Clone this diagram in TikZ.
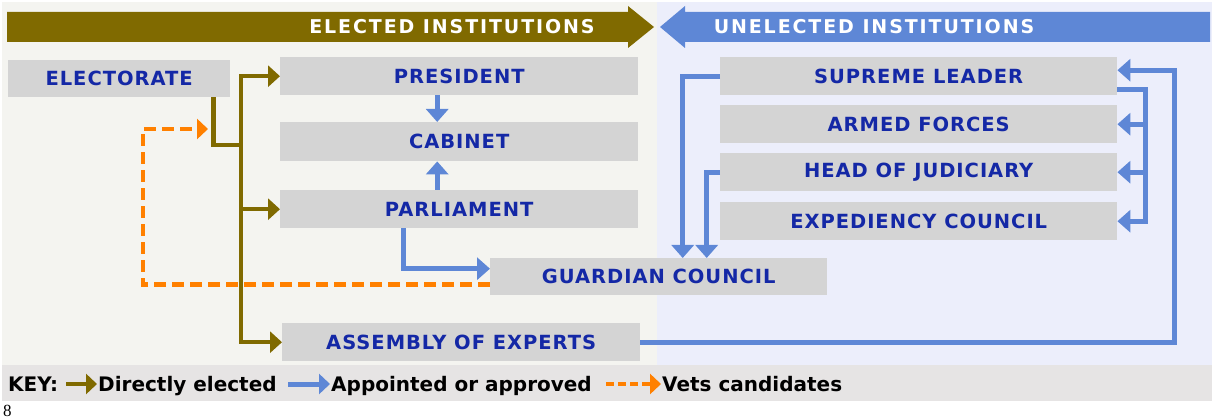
\documentclass[tikz,border=0pt]{standalone}
\usepackage{fontspec}
\setmainfont{DejaVu Sans}
\newfontfamily\boxfont[LetterSpace=5]{DejaVu Sans Bold}
\newfontfamily\banfont[LetterSpace=10]{DejaVu Sans Bold}
\newfontfamily\keyfont{DejaVu Sans Bold}
\newfontfamily\pnfont{Liberation Serif}
\usetikzlibrary{arrows.meta}
\definecolor{olv}{HTML}{806A00}
\definecolor{blu}{HTML}{5E87D6}
\definecolor{org}{HTML}{FF8000}
\definecolor{boxgrey}{HTML}{D4D4D4}
\definecolor{txtblue}{HTML}{1428A6}
\definecolor{leftbg}{HTML}{F4F4F0}
\definecolor{rightbg}{HTML}{ECEEFB}
\definecolor{keybg}{HTML}{E6E4E4}
\tikzset{
  inst/.style={fill=boxgrey, draw=none, inner sep=0pt, anchor=north west,
    font=\boxfont\fontsize{19.5}{21}\selectfont, text=txtblue},
  banner/.style={inner sep=0pt, font=\banfont\fontsize{19}{21}\selectfont, text=white},
  keytext/.style={inner sep=0pt, anchor=base west, font=\keyfont\fontsize{20}{22}\selectfont, text=black},
  olvline/.style={draw=olv, line width=4.5pt},
  olvarrow/.style={olvline, -{Triangle[length=12pt,width=21pt]}},
  olvboth/.style={olvline, {Triangle[length=12pt,width=21pt]}-{Triangle[length=12pt,width=21pt]}},
  bluline/.style={draw=blu, line width=5pt},
  bluarrow/.style={bluline, -{Triangle[length=13pt,width=22pt]}},
  orgarrow/.style={draw=org, line width=4.5pt, dash pattern=on 12pt off 6pt, -{Triangle[length=11pt,width=20pt]}},
  olvkey/.style={olvline, -{Triangle[length=11pt,width=20pt]}},
  blukey/.style={bluline, -{Triangle[length=11pt,width=20pt]}},
  orgkey/.style={draw=org, line width=4.5pt, dash pattern=on 8pt off 4pt, -{Triangle[length=11pt,width=20pt]}}
}
\begin{document}
\begin{tikzpicture}[x=1pt,y=-1pt]
\useasboundingbox (0,0) rectangle (1214,419);
% backgrounds
\fill[white] (0,0) rectangle (1214,419);
\fill[leftbg] (2,2) rectangle (657,365);
\fill[rightbg] (657,2) rectangle (1212,365);
\fill[keybg] (2,365) rectangle (1212,401);
% banners
\fill[olv] (7,12) -- (628,12) -- (628,6) -- (654,27) -- (628,48) -- (628,42) -- (7,42) -- cycle;
\fill[blu] (1210,12) -- (685,12) -- (685,6) -- (660,27) -- (685,48) -- (685,42) -- (1210,42) -- cycle;
\node[banner] (electedban) at (452,27) {ELECTED INSTITUTIONS};
\node[banner] (unelectedban) at (874,27) {UNELECTED INSTITUTIONS};
% boxes
\node[inst, minimum width=222pt, minimum height=37pt] (elect) at (8,60) {ELECTORATE};
\node[inst, minimum width=358pt, minimum height=38pt] (pres) at (280,57) {PRESIDENT};
\node[inst, minimum width=358pt, minimum height=39pt] (cab) at (280,122) {CABINET};
\node[inst, minimum width=358pt, minimum height=38pt] (parl) at (280,190) {PARLIAMENT};
\node[inst, minimum width=337pt, minimum height=37pt] (guard) at (490,258) {GUARDIAN COUNCIL};
\node[inst, minimum width=358pt, minimum height=38pt] (assem) at (282,323) {ASSEMBLY OF EXPERTS};
\node[inst, minimum width=397pt, minimum height=38pt] (sup) at (720,57) {SUPREME LEADER};
\node[inst, minimum width=397pt, minimum height=38pt] (armed) at (720,105) {ARMED FORCES};
\node[inst, minimum width=397pt, minimum height=38pt] (judic) at (720,153) {HEAD OF JUDICIARY};
\node[inst, minimum width=397pt, minimum height=38pt] (exped) at (720,202) {EXPEDIENCY COUNCIL};
% helper coordinates
\coordinate (trunk) at (241,145);
\coordinate (vet) at (208,129);
\coordinate (orgcorner) at (143,129);
\coordinate (rb) at (1145,0);
\coordinate (ro) at (1174,0);
\coordinate (supin) at ([yshift=6pt]sup.east);
\coordinate (supout) at ([yshift=-13pt]sup.east);
% orange (vets)
\draw[orgarrow] ([yshift=-8pt]guard.west) -| (orgcorner) -- (vet);
% olive (directly elected)
\draw[olvline] ([xshift=-17pt]elect.south east) |- (trunk);
\draw[olvboth] (pres.west) -| (trunk |- assem.west) -- (assem.west);
\draw[olvarrow] (trunk |- parl.west) -- (parl.west);
% blue (appointed)
\draw[bluarrow] ([xshift=-22pt]pres.south) -- ([xshift=-22pt]cab.north);
\draw[bluarrow] ([xshift=-22pt]parl.north) -- ([xshift=-22pt]cab.south);
\draw[bluarrow] ([xshift=-56pt]parl.south) |- ([yshift=8pt]guard.west);
\draw[bluarrow] (sup.west) -| ([xshift=24pt]guard.north);
\draw[bluarrow] (judic.west) -| ([xshift=48pt]guard.north);
\draw[bluarrow] (supout) -| (rb |- exped.east) -- (exped.east);
\draw[bluarrow] (rb |- armed.east) -- (armed.east);
\draw[bluarrow] (rb |- judic.east) -- (judic.east);
\draw[bluarrow] (assem.east) -| (ro |- supin) -- (supin);
% key
\node[keytext] (key) at (8,391) {KEY:};
\coordinate (k1s) at (66,384); \coordinate (k1e) at (97,384);
\draw[olvkey] (k1s) -- (k1e);
\node[keytext] (kd) at (98,391) {Directly elected};
\coordinate (k2s) at (288,384); \coordinate (k2e) at (330,384);
\draw[blukey] (k2s) -- (k2e);
\node[keytext] (ka) at (331,391) {Appointed or approved};
\coordinate (k3s) at (606,384); \coordinate (k3e) at (661,384);
\draw[orgkey] (k3s) -- (k3e);
\node[keytext] (kv) at (662,391) {Vets candidates};
\node[inner sep=0pt, anchor=base west, font=\pnfont\fontsize{17}{18}\selectfont] (pagenum) at (3,416) {8};
\end{tikzpicture}
\end{document}
